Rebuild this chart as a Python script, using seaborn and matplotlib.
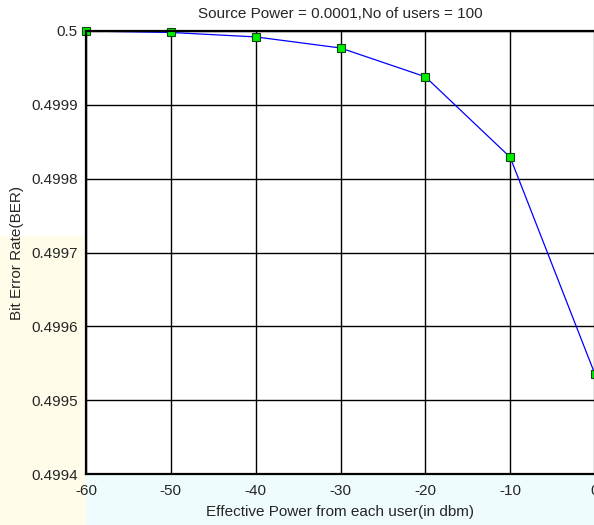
import numpy as np
import pandas as pd
import matplotlib
matplotlib.use("Agg")
import matplotlib.pyplot as plt
import seaborn as sns
from matplotlib.patches import Rectangle

# --- data ---
power_dbm = [-60, -50, -40, -30, -20, -10, 0]
ber = [0.5, 0.499998, 0.499992, 0.499977, 0.499938, 0.499829, 0.499535]

x_ticks = [-60, -50, -40, -30, -20, -10, 0]
y_ticks = [0.4994, 0.4995, 0.4996, 0.4997, 0.4998, 0.4999, 0.5]
y_labels = ["0.4994", "0.4995", "0.4996", "0.4997", "0.4998", "0.4999", "0.5"]

df = pd.DataFrame({"power": power_dbm, "ber": ber})

sns.set_style("white")
plt.rcParams['font.family'] = ['Liberation Sans', 'DejaVu Sans']
plt.rcParams['axes.unicode_minus'] = False

fig = plt.figure(figsize=(5.94, 5.25), dpi=100)

# faint slide background left in the scan
fig.add_artist(Rectangle((0, 0), 0.145, 0.55, transform=fig.transFigure,
                         color="#fffcea", zorder=0))
fig.add_artist(Rectangle((0.145, 0), 0.855, 0.095, transform=fig.transFigure,
                         color="#effcfd", zorder=0))

ax = fig.add_axes([86 / 594, 1 - 474 / 525, (595 - 86) / 594, (474 - 31) / 525])

sns.lineplot(data=df, x="power", y="ber", ax=ax, color="blue", linewidth=0.9,
             marker="s", markersize=5.5, markerfacecolor="#00ee00",
             markeredgecolor="#114411", markeredgewidth=0.8, clip_on=False)

ax.set_xlim(-60, 0)
ax.set_ylim(0.4994, 0.5)
ax.set_xticks(x_ticks)
ax.set_yticks(y_ticks)
ax.set_yticklabels(y_labels)
ax.grid(True, color="black", linewidth=1.0)
ax.set_axisbelow(True)
for s in ax.spines.values():
    s.set_linewidth(1.6)
    s.set_color("black")
ax.tick_params(axis="x", labelsize=11, length=0, pad=7)
ax.tick_params(axis="y", labelsize=11, length=0, pad=6)

ax.set_title("Source Power = 0.0001,No of users = 100", fontsize=11, pad=9)
ax.set_xlabel("Effective Power from each user(in dbm)", fontsize=11, labelpad=5)
ax.set_ylabel("Bit Error Rate(BER)", fontsize=11, labelpad=5)

fig.savefig("out.png", dpi=100)
